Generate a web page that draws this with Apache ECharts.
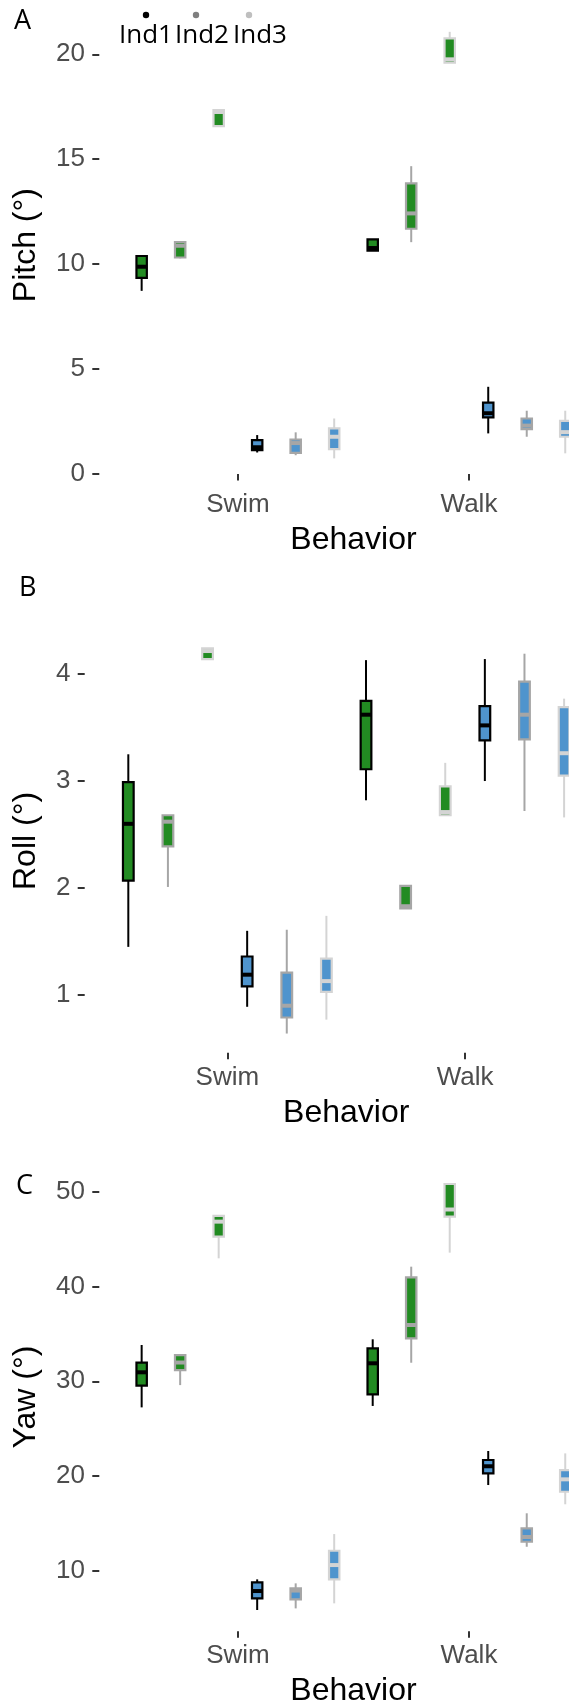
<!DOCTYPE html>
<html>
<head>
<meta charset="utf-8">
<script src="https://cdn.jsdelivr.net/npm/echarts@6/dist/echarts.min.js"></script>
<style>
html,body{margin:0;padding:0;background:#fff;}
#chart{width:569px;height:1707px;}
</style>
</head>
<body>
<div id="chart"></div>
<script>
// ---------------- data ----------------
const behaviors = ['Swim', 'Walk'];
const individuals = ['Ind1', 'Ind2', 'Ind3'];
const fillGroups = ['green', 'blue'];

// each entry: [min, Q1, median, Q3, max] for Swim, then Walk
// Pitch
const pitchGreenInd1 = [[8.73, 9.35, 9.88, 10.39, 10.39], [10.64, 10.64, 10.77, 11.18, 11.18]];
const pitchGreenInd2 = [[10.28, 10.32, 10.88, 11.05, 11.05], [11.05, 11.69, 12.42, 13.85, 14.67]];
const pitchGreenInd3 = [[16.58, 16.58, 17.25, 17.34, 17.34], [19.60, 19.60, 19.76, 20.76, 21.07]];
const pitchBlueInd1 = [[1.03, 1.14, 1.28, 1.62, 1.86], [1.94, 2.70, 2.90, 3.41, 4.16]];
const pitchBlueInd2 = [[0.90, 1.01, 1.48, 1.65, 1.99], [1.78, 2.14, 2.31, 2.65, 3.02]];
const pitchBlueInd3 = [[0.75, 1.19, 1.78, 2.18, 2.65], [0.99, 1.78, 2.00, 2.54, 3.02]];
// Roll
const rollGreenInd1 = [[1.45, 2.07, 2.60, 2.99, 3.25], [2.82, 3.11, 3.62, 3.75, 4.13]];
const rollGreenInd2 = [[2.01, 2.39, 2.62, 2.68, 2.68], [1.81, 1.81, 1.83, 2.02, 2.02]];
const rollGreenInd3 = [[4.14, 4.14, 4.215, 4.24, 4.24], [2.68, 2.68, 2.71, 2.95, 3.17]];
const rollBlueInd1 = [[0.89, 1.08, 1.19, 1.36, 1.60], [3.00, 3.38, 3.52, 3.70, 4.14]];
const rollBlueInd2 = [[0.64, 0.79, 0.90, 1.21, 1.61], [2.72, 3.39, 3.62, 3.93, 4.19]];
const rollBlueInd3 = [[0.77, 1.03, 1.13, 1.34, 1.74], [2.66, 3.05, 3.26, 3.69, 3.77]];
// Yaw
const yawGreenInd1 = [[27.25, 29.54, 30.95, 31.96, 33.83], [27.40, 28.63, 31.90, 33.48, 34.43]];
const yawGreenInd2 = [[29.60, 31.19, 31.98, 32.77, 32.77], [31.96, 34.53, 35.94, 40.97, 42.09]];
const yawGreenInd3 = [[42.97, 45.25, 46.84, 47.44, 47.44], [43.57, 47.36, 48.12, 50.81, 50.81]];
const yawBlueInd1 = [[5.88, 7.11, 7.88, 8.80, 9.11], [19.06, 20.29, 21.04, 21.70, 22.65]];
const yawBlueInd2 = [[6.05, 7.00, 7.93, 8.17, 8.69], [12.55, 13.08, 13.58, 14.49, 16.08]];
const yawBlueInd3 = [[6.58, 9.11, 10.62, 12.13, 13.89], [17.03, 18.35, 19.66, 20.64, 22.40]];

const pitchTicks = [0, 5, 10, 15, 20];
const rollTicks = [1, 2, 3, 4];
const yawTicks = [10, 20, 30, 40, 50];

const panelLetters = ['A', 'B', 'C'];
const yTitles = ['Pitch (°)', 'Roll (°)', 'Yaw (°)'];
const xTitle = 'Behavior';

// ---------------- styling / layout ----------------
const outlineColors = ['#000000', '#a6a6a6', '#d4d4d4'];
const legendColors = ['#000000', '#7f7f7f', '#bfbfbf'];
const fillColors = ['#228b22', '#4f94cd'];
const axisFont = 'Liberation Sans, Arial, sans-serif';
const legendFont = 'Open Sans, Noto Sans, sans-serif';

const panels = [
  { data: [[pitchGreenInd1, pitchGreenInd2, pitchGreenInd3], [pitchBlueInd1, pitchBlueInd2, pitchBlueInd3]],
    ticks: pitchTicks, grid: { left: 122.4, width: 462.1, top: 10.5, height: 469.2 }, offset: 23.1 },
  { data: [[rollGreenInd1, rollGreenInd2, rollGreenInd3], [rollBlueInd1, rollBlueInd2, rollBlueInd3]],
    ticks: rollTicks, grid: { left: 108.5, width: 475.4, top: 629.1, height: 423.7 }, offset: 23.8 },
  { data: [[yawGreenInd1, yawGreenInd2, yawGreenInd3], [yawBlueInd1, yawBlueInd2, yawBlueInd3]],
    ticks: yawTicks, grid: { left: 122.4, width: 462.1, top: 1162.7, height: 468.6 }, offset: 23.1 }
];

function extentOf(panel) {
  let lo = Infinity, hi = -Infinity;
  panel.data.forEach(g => g.forEach(ind => ind.forEach(s => { lo = Math.min(lo, s[0]); hi = Math.max(hi, s[4]); })));
  const pad = (hi - lo) * 0.05;
  return [lo - pad, hi + pad];
}

function makeRender(slot, stroke, fill) {
  return function (params, api) {
    const k = api.value(0);
    const band = api.size([1, 0])[0];
    const slotW = band / 6;
    const cx = api.coord([k, api.value(3)])[0] + (slot - 2.5) * slotW;
    const y = v => api.coord([k, v])[1];
    const yMin = y(api.value(1)), yQ1 = y(api.value(2)), yMed = y(api.value(3)), yQ3 = y(api.value(4)), yMax = y(api.value(5));
    const bw = slotW * 0.27;
    return {
      type: 'group',
      children: [
        { type: 'line', shape: { x1: cx, y1: yMax, x2: cx, y2: yQ3 }, style: { stroke: stroke, lineWidth: 2 } },
        { type: 'line', shape: { x1: cx, y1: yQ1, x2: cx, y2: yMin }, style: { stroke: stroke, lineWidth: 2 } },
        { type: 'rect', shape: { x: cx - bw / 2, y: yQ3, width: bw, height: yQ1 - yQ3 }, style: { fill: fill, stroke: stroke, lineWidth: 2.2 } },
        { type: 'line', shape: { x1: cx - bw / 2, y1: yMed, x2: cx + bw / 2, y2: yMed }, style: { stroke: stroke, lineWidth: 4 } }
      ]
    };
  };
}

const grids = [], xAxes = [], yAxes = [], series = [];
panels.forEach((p, pi) => {
  grids.push(Object.assign({ containLabel: false, outerBoundsMode: 'none' }, p.grid));
  xAxes.push({
    type: 'category', gridIndex: pi, data: behaviors, boundaryGap: true,
    axisLine: { show: false },
    axisTick: { show: true, alignWithLabel: true, length: 6.5, lineStyle: { color: '#333333', width: 2 } },
    axisLabel: { color: '#4d4d4d', fontSize: 26, fontFamily: axisFont, margin: 12 },
    splitLine: { show: false },
    name: xTitle, nameLocation: 'middle', nameGap: 44,
    nameTextStyle: { color: '#000000', fontSize: 32, fontFamily: axisFont }
  });
  const ext = extentOf(p);
  yAxes.push({
    type: 'value', gridIndex: pi, min: ext[0], max: ext[1], offset: p.offset,
    axisLine: { show: false },
    axisTick: { show: true, length: 7, customValues: p.ticks, lineStyle: { color: '#333333', width: 2 } },
    axisLabel: { color: '#4d4d4d', fontSize: 26, fontFamily: axisFont, margin: 14.3, customValues: p.ticks },
    splitLine: { show: false },
    name: yTitles[pi], nameLocation: 'middle', nameGap: p.grid.left - p.offset - 42.5,
    nameTextStyle: { color: '#000000', fontSize: 32, fontFamily: axisFont }
  });
  p.data.forEach((group, gi) => {
    group.forEach((ind, ii) => {
      series.push({
        type: 'custom', name: individuals[ii], xAxisIndex: pi, yAxisIndex: pi,
        data: behaviors.map((b, k) => [k].concat(ind[k])),
        encode: { x: 0, y: [1, 2, 3, 4, 5] },
        renderItem: makeRender(gi * 3 + ii, outlineColors[ii], fillColors[gi]),
        silent: true
      });
    });
  });
});

// panel letters and legend (drawn as graphic text)
const letterPos = [[14, 21.7], [19, 588.5], [16, 1186]];
const legendDotX = [146, 196, 249];
const legendTextX = [119, 175, 233];
const graphic = [];
panelLetters.forEach((L, i) => {
  graphic.push({ type: 'text', x: letterPos[i][0], y: letterPos[i][1],
    style: { text: L, fill: '#000', fontSize: 27, fontFamily: legendFont, align: 'left', verticalAlign: 'middle' } });
});
individuals.forEach((name, i) => {
  graphic.push({ type: 'circle', shape: { cx: legendDotX[i], cy: 15, r: 3.2 }, style: { fill: legendColors[i] } });
  graphic.push({ type: 'text', x: legendTextX[i], y: 36,
    style: { text: name, fill: '#000', fontSize: 26, fontFamily: legendFont, align: 'left', verticalAlign: 'middle' } });
});

const chart = echarts.init(document.getElementById('chart'), null, { renderer: 'canvas' });
chart.setOption({
  animation: false,
  backgroundColor: '#ffffff',
  grid: grids,
  xAxis: xAxes,
  yAxis: yAxes,
  series: series,
  graphic: graphic
});
</script>
</body>
</html>
